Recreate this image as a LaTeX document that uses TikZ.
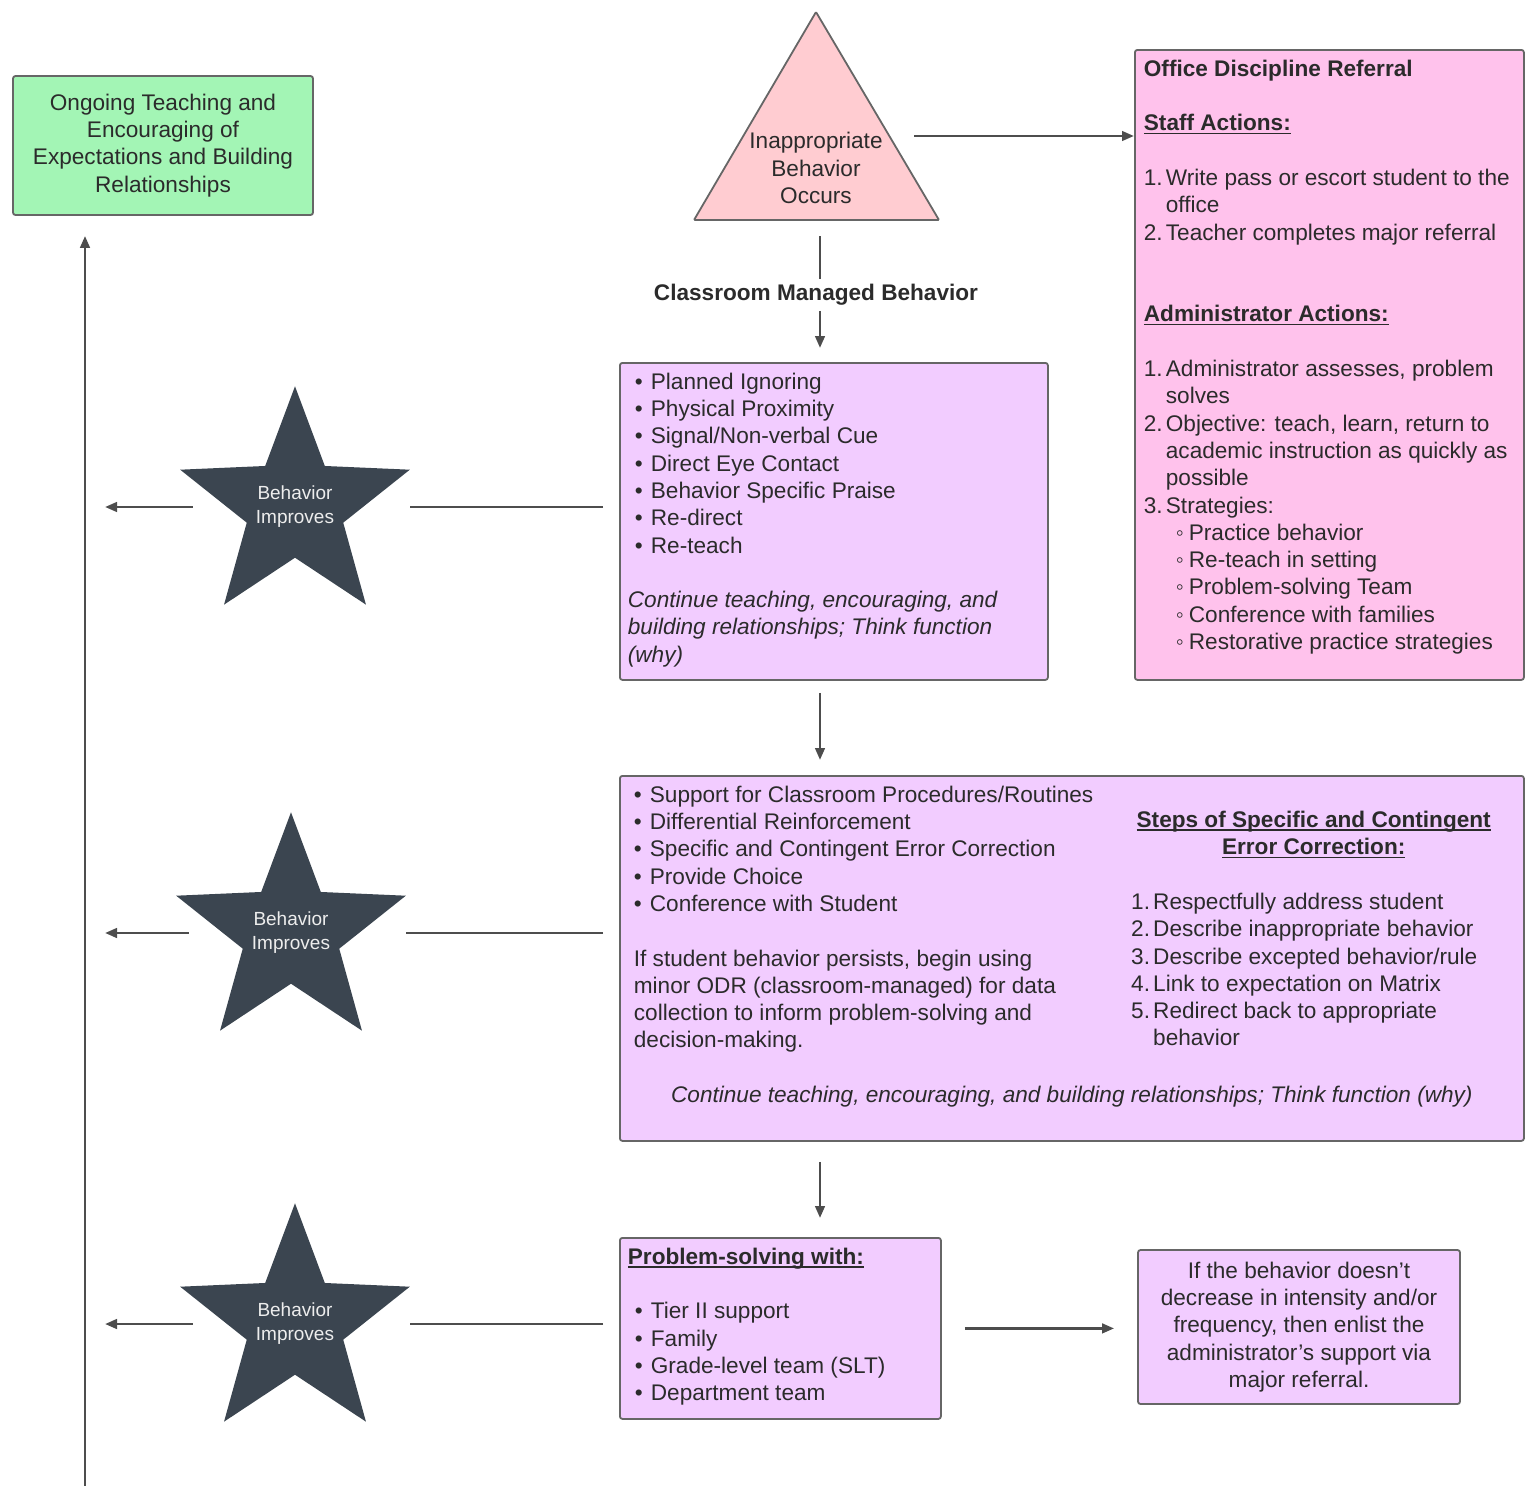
\documentclass[tikz,border=0pt]{standalone}
\usepackage{fontspec}
\setmainfont{Liberation Sans}
\usetikzlibrary{shapes.geometric, arrows.meta}

\definecolor{ink}{HTML}{2B2B2B}
\definecolor{edge}{HTML}{666666}
\definecolor{wire}{HTML}{4D4D4D}
\definecolor{mint}{HTML}{A3F5B5}
\definecolor{blush}{HTML}{FFCCD1}
\definecolor{rose}{HTML}{FFC2EC}
\definecolor{lilac}{HTML}{F2CCFF}
\definecolor{slate}{HTML}{3B4550}
\definecolor{starink}{HTML}{EDEDED}

\newcommand{\bodyfont}{\fontsize{22.6}{27.3}\selectfont}
\newcommand{\starfont}{\fontsize{19}{24}\selectfont}
% text block of a box: width, height, left padding, lines
\newcommand{\panel}[4]{\parbox[t][#2][t]{#1}{\vspace*{10pt}\leftskip=#3\rightskip=0pt plus 1fil\relax#4}}
\newcommand{\bul}[1][7pt]{\hspace*{#1}\makebox[16pt][l]{\textbullet}}
\newcommand{\subbul}{\hspace*{32pt}\makebox[13pt][l]{◦}}
\newcommand{\numitem}[1]{\makebox[22pt][l]{#1.}}
\newcommand{\contline}{\hspace*{22pt}}
\newcommand{\under}[1]{\leavevmode{\setbox0=\hbox{#1}\rlap{\rule[-3.5pt]{\wd0}{1.6pt}}\box0}}

\begin{document}
\begin{tikzpicture}[x=1pt, y=-1pt,
    card/.style={draw=edge, line width=1.8pt, rounded corners=2.5pt, inner sep=0pt, anchor=north west, font=\bodyfont, text=ink},
    note/.style={draw=edge, line width=1.8pt, rounded corners=2.5pt, align=center, font=\bodyfont, text=ink},
    burst/.style={star, star points=5, star point ratio=2.38, inner sep=-3.2pt, fill=slate, text=starink, font=\starfont, align=center},
    conn/.style={draw=wire, line width=2.7pt},
    flow/.style={conn, -{Triangle[length=12pt, width=9.5pt]}}]

    \useasboundingbox (0,0) rectangle (1532,1486);

    % goal box
    \node[note, fill=mint, minimum width=300pt, minimum height=139pt] (ongoing) at (163,145.5) {Ongoing Teaching and\\Encouraging of\\Expectations and Building\\Relationships};

    % trigger
    \filldraw[fill=blush, draw=edge, line width=1.8pt, rounded corners=1pt] (816,12) -- (939,220) -- (694,220) -- cycle;
    \node[font=\bodyfont, text=ink, align=center] (occurs) at (816,168) {Inappropriate\\Behavior\\Occurs};
    \coordinate (base) at (816,220);
    \coordinate (side) at (889,136);
    \coordinate (spine) at (820,0);
    \coordinate (rise) at (85,1486);

    % office referral
    \node[card, fill=rose] (odr) at (1134,49) {\panel{389pt}{630pt}{9pt}{%
        \textbf{Office Discipline Referral}\\
        \mbox{}\\
        \under{\textbf{Staff Actions:}}\\
        \mbox{}\\
        \numitem{1}Write pass or escort student to the\\
        \contline office\\
        \numitem{2}Teacher completes major referral\\
        \mbox{}\\
        \mbox{}\\
        \under{\textbf{Administrator Actions:}}\\
        \mbox{}\\
        \numitem{1}Administrator assesses, problem\\
        \contline solves\\
        \numitem{2}Objective: teach, learn, return to\\
        \contline academic instruction as quickly as\\
        \contline possible\\
        \numitem{3}Strategies:\\
        \subbul Practice behavior\\
        \subbul Re-teach in setting\\
        \subbul Problem-solving Team\\
        \subbul Conference with families\\
        \subbul Restorative practice strategies}};

    \node[font=\bodyfont\bfseries, text=ink, inner xsep=0pt, inner ysep=5pt] (cmb) at (816,295) {Classroom Managed Behavior};

    % classroom steps
    \node[card, fill=lilac] (b1) at (619,362) {\panel{428pt}{317pt}{8pt}{%
        \bul Planned Ignoring\\
        \bul Physical Proximity\\
        \bul Signal/Non-verbal Cue\\
        \bul Direct Eye Contact\\
        \bul Behavior Specific Praise\\
        \bul Re-direct\\
        \bul Re-teach\\
        \mbox{}\\
        \itshape Continue teaching, encouraging, and\\
        building relationships; Think function\\
        (why)}};

    \node[card, fill=lilac] (b2) at (619,775) {\panel{904pt}{365pt}{14pt}{%
        \bul[0pt]Support for Classroom Procedures/Routines\\
        \bul[0pt]Differential Reinforcement\\
        \bul[0pt]Specific and Contingent Error Correction\\
        \bul[0pt]Provide Choice\\
        \bul[0pt]Conference with Student\\
        \mbox{}\\
        If student behavior persists, begin using\\
        minor ODR (classroom-managed) for data\\
        collection to inform problem-solving and\\
        decision-making.\\
        \mbox{}\par
        {\centering\itshape Continue teaching, encouraging, and building relationships; Think function (why)\par}}};

    \node[anchor=north west, inner sep=0pt, font=\bodyfont, text=ink] (steps) at (1131,811) {\parbox[t]{365pt}{\centering
        \under{\textbf{Steps of Specific and Contingent}}\\
        \under{\textbf{Error Correction:}}\par
        \raggedright\mbox{}\\
        \numitem{1}Respectfully address student\\
        \numitem{2}Describe inappropriate behavior\\
        \numitem{3}Describe excepted behavior/rule\\
        \numitem{4}Link to expectation on Matrix\\
        \numitem{5}Redirect back to appropriate\\
        \contline behavior}};

    \node[card, fill=lilac] (b3) at (619,1237) {\panel{321pt}{181pt}{8pt}{%
        \under{\textbf{Problem-solving with:}}\\
        \mbox{}\\
        \bul Tier II support\\
        \bul Family\\
        \bul Grade-level team (SLT)\\
        \bul Department team}};

    \node[note, fill=lilac, minimum width=322pt, minimum height=154pt] (b4) at (1299,1327) {If the behavior doesn't\\decrease in intensity and/or\\frequency, then enlist the\\administrator's support via\\major referral.};

    % stars
    \node[burst] (s1) at (295,507) {Behavior\\Improves};
    \node[burst] (s2) at (291,933) {Behavior\\Improves};
    \node[burst] (s3) at (295,1324) {Behavior\\Improves};

    % connectors
    \draw[flow, shorten <=25pt] (side) -- (side -| odr.west);
    \draw[conn, shorten <=16pt] (spine |- base) -- (spine |- cmb.north);
    \draw[flow, shorten >=14pt] (spine |- cmb.south) -- (spine |- b1.north);
    \draw[flow, shorten <=12pt, shorten >=15pt] (spine |- b1.south) -- (spine |- b2.north);
    \draw[flow, shorten <=20pt, shorten >=19pt] (spine |- b2.south) -- (spine |- b3.north);
    \draw[flow, shorten <=23pt, shorten >=23pt] (b3.east) -- (b3.east -| b4.west);

    \draw[conn, shorten <=16pt] (b1.west |- s1) -- (s1.outer point 5 |- s1);
    \draw[conn, shorten <=16pt] (b2.west |- s2) -- (s2.outer point 5 |- s2);
    \draw[conn, shorten <=16pt] (b3.west |- s3) -- (s3.outer point 5 |- s3);
    \draw[flow, shorten <=-13pt, shorten >=20pt] (s1.outer point 2 |- s1) -- (rise |- s1);
    \draw[flow, shorten <=-13pt, shorten >=20pt] (s2.outer point 2 |- s2) -- (rise |- s2);
    \draw[flow, shorten <=-13pt, shorten >=20pt] (s3.outer point 2 |- s3) -- (rise |- s3);

    \draw[flow, shorten >=20pt] (rise) -- (rise |- ongoing.south);
\end{tikzpicture}
\end{document}
